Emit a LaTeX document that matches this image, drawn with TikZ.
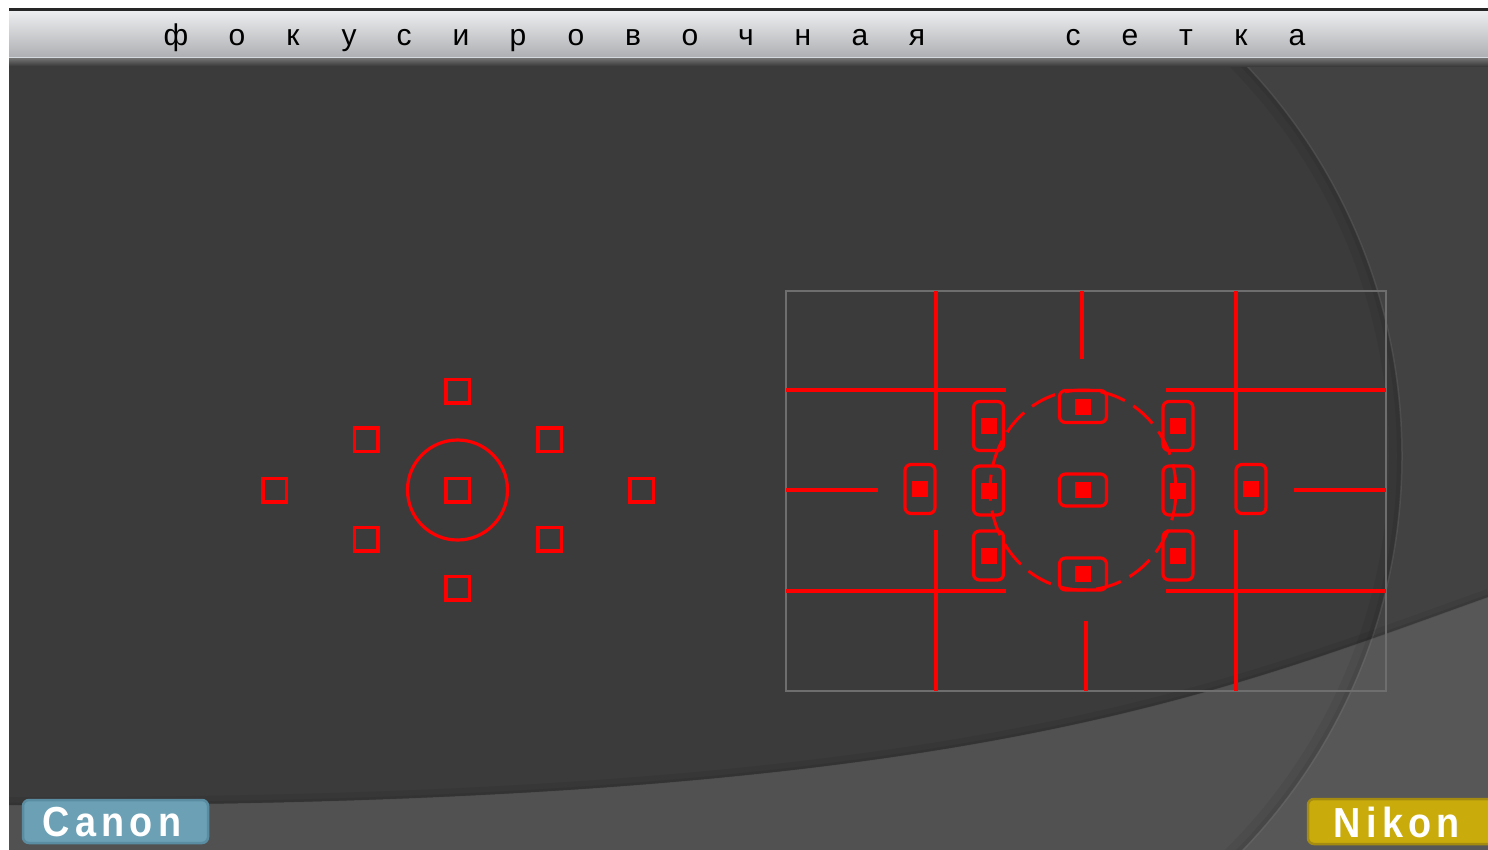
\documentclass[tikz,border=0pt]{standalone}
\usepackage{fontspec}
\setmainfont{Liberation Sans}
\definecolor{bodydark}{HTML}{3B3B3B}
\definecolor{swooshgray}{HTML}{515151}
\definecolor{canonblue}{HTML}{6BA0B5}
\definecolor{canonedge}{HTML}{5A8DA1}
\definecolor{nikongold}{HTML}{C9AC0B}
\definecolor{nikonedge}{HTML}{A58C10}
\definecolor{afred}{HTML}{FF0000}
\definecolor{framegray}{HTML}{6E6E6E}
\definecolor{bartop}{HTML}{ECEDEF}
\definecolor{barbot}{HTML}{AEB0B3}
\definecolor{barline}{HTML}{D3D9DF}
\tikzset{
  csq/.style={draw=afred, line width=3.5pt, minimum size=23.5pt, inner sep=0pt, shape=rectangle},
  hbox/.style={draw=afred, line width=3.2pt, minimum width=47pt, minimum height=32pt, inner sep=0pt, rounded corners=6pt, shape=rectangle},
  vbox/.style={draw=afred, line width=3.2pt, minimum width=30pt, minimum height=49pt, inner sep=0pt, rounded corners=6pt, shape=rectangle},
  dot/.style={fill=afred, minimum size=16pt, inner sep=0pt, shape=rectangle},
  redline/.style={afred, line width=3.5pt},
  titlelet/.style={anchor=base, inner sep=0pt, font=\fontsize{30}{30}\selectfont},
  lbltext/.style={text=white, inner sep=0pt, font=\fontsize{42}{42}\selectfont\bfseries\addfontfeature{LetterSpace=14}},
}
\begin{document}
\begin{tikzpicture}[x=1pt,y=-1pt]
\useasboundingbox (0,0) rectangle (1488,849);
\fill[white] (0,0) rectangle (1488,849);
% background
\begin{scope}
\clip (9,11) rectangle (1488,849);
\fill[bodydark] (9,11) rectangle (1488,849);
\fill[swooshgray] (0,805) .. controls (950,808) and (1200,700) .. (1488,597) -- (1510,590) -- (1510,860) -- (0,860) -- cycle;
\begin{scope}
\clip (834,0) rectangle (1500,860);
\fill[white, opacity=0.04, even odd rule] (834,0) rectangle (1500,860) (834,456) circle[radius=568pt];
\draw[black, opacity=0.05, line width=12pt] (834,456) circle[radius=561pt];
\draw[black, opacity=0.06, line width=4pt] (834,456) circle[radius=565pt];
\draw[white, opacity=0.07, line width=1.5pt] (834,456) circle[radius=568pt];
\end{scope}
\draw[black, opacity=0.06, line width=8pt] (0,801) .. controls (950,804) and (1200,696) .. (1488,593);
\draw[black, opacity=0.07, line width=3pt] (0,804) .. controls (950,807) and (1200,699) .. (1488,596);
\end{scope}
% title bar
\fill[black!85] (9,8) rectangle (1488,11.5);
\shade[top color=bartop, bottom color=barbot] (9,11.5) rectangle (1488,56.5);
\fill[barline] (9,56.5) rectangle (1488,58);
\shade[top color=black!55, bottom color=bodydark] (9,58) rectangle (1488,66);
\foreach \ch/\xx [count=\i] in {ф/176,о/237,к/293,у/349,с/404,и/461,р/518,о/576,в/633,о/690,ч/746,н/803,а/860,я/917,с/1073,е/1130,т/1186,к/1241,а/1297}
  \node[titlelet] (t\i) at (\xx,45) {\ch};
% Canon pattern
\node[draw=afred, line width=3.2pt, circle, minimum size=100pt, inner sep=0pt] (ccirc) at (457.5,490) {};
\node[csq] (ctop) at (457.5,391) {};
\node[csq] (cul) at (366,439.5) {};
\node[csq] (cur) at (549.5,439.5) {};
\node[csq] (cl) at (274.5,490) {};
\node[csq] (cc) at (457.5,490) {};
\node[csq] (cr) at (641.5,490) {};
\node[csq] (cll) at (366,539) {};
\node[csq] (clr) at (549.5,539) {};
\node[csq] (cb) at (457.5,588) {};
% Nikon pattern
\draw[framegray, line width=1.3pt] (786,291) rectangle (1386,691);
\draw[redline] (936,291) -- (936,450);
\draw[redline] (936,530) -- (936,691);
\draw[redline] (1236,291) -- (1236,450);
\draw[redline] (1236,530) -- (1236,691);
\draw[redline] (1082,291) -- (1082,359);
\draw[redline] (1086,621) -- (1086,691);
\draw[redline] (786,390) -- (1006,390);
\draw[redline] (1166,390) -- (1386,390);
\draw[redline] (786,591) -- (1006,591);
\draw[redline] (1166,591) -- (1386,591);
\draw[redline] (786,490) -- (878,490);
\draw[redline] (1294,490) -- (1386,490);
\draw[afred, line width=3pt, dash pattern=on 26pt off 10pt] (1083,490) ellipse[x radius=93pt, y radius=100pt];
\foreach \nm/\xx/\yy in {nt/1083/406.5, nc/1083/490, nb/1083/574}{
  \node[hbox] (\nm) at (\xx,\yy) {};
  \node[dot] (\nm d) at (\xx,\yy) {};
}
\foreach \nm/\xx/\yy in {l1/988.5/426, l2/988.5/490.5, l3/988.5/555.5, r1/1178/426, r2/1178/490.5, r3/1178/555.5, fl/920/489, fr/1251/489}{
  \node[vbox] (\nm) at (\xx,\yy) {};
  \node[dot] (\nm d) at (\xx,\yy) {};
}
% labels
\draw[canonedge, line width=2.5pt, fill=canonblue, rounded corners=6pt] (23,800) rectangle (208,843);
\node[lbltext] (canon) at (112,822) {\scalebox{0.9}[1]{Canon}};
\draw[nikonedge, line width=2.5pt, fill=nikongold, rounded corners=6pt] (1308,799) rectangle (1510,844);
\node[lbltext] (nikon) at (1397,822) {\scalebox{0.9}[1]{Nikon}};
\end{tikzpicture}
\end{document}
